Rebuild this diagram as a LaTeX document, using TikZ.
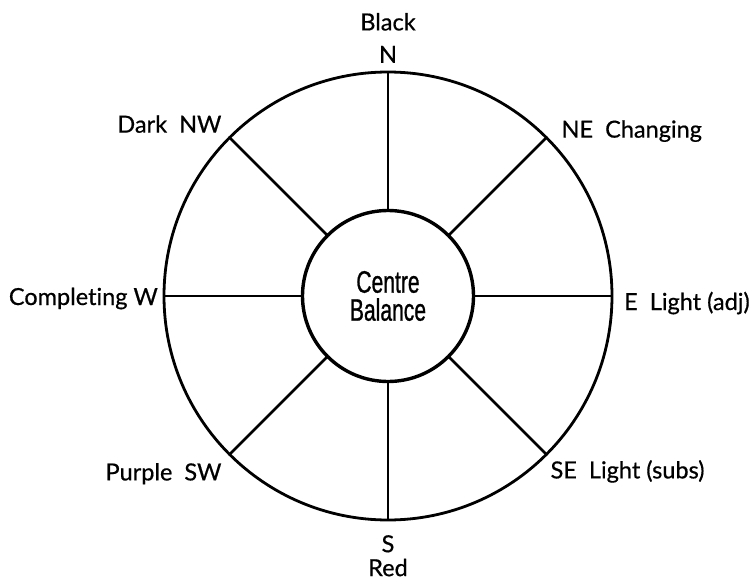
\documentclass[tikz,border=0pt]{standalone}
\usepackage{fontspec}
\setmainfont[Ligatures=NoCommon, FakeBold=0.6]{Lato}
\newfontfamily\hubfont[FakeStretch=0.68, FakeBold=0.8]{Liberation Sans}
\usetikzlibrary{positioning}

\begin{document}
\begin{tikzpicture}[
    x=1pt, y=-1pt,
    node distance=8pt,
    label/.style={inner sep=3pt, font=\fontsize{23.5}{28}\selectfont},
    rimline/.style={circle, draw, line width=2.8pt, outer sep=0pt},
    spoke/.style={line width=2.5pt}
]
    \useasboundingbox (0,0) rectangle (756,586);
    % wheel
    \node[rimline, minimum size=448pt] (rim) at (388,296) {};
    \node[rimline, line width=3.4pt, minimum size=171pt, align=center,
          font=\hubfont\fontsize{31}{28}\selectfont] (hub) at (388,296) {Centre\\Balance};
    \foreach \a in {0,45,...,315}
        \draw[spoke] (hub.\a) -- (rim.\a);
    % compass points
    \node[label, above=6pt of rim.north] (north) {N};
    \node[label, above=9pt of north] (black) {Black};
    \node[label, below=12pt of rim.south] (south) {S};
    \node[label, below=0pt of south] (red) {Red};
    \node[label, anchor=base east] (west) at ([shift={(-3,9)}]rim.west) {Completing W};
    \node[label, anchor=base west] (east) at ([shift={(9,14)}]rim.east) {E\ \ Light (adj)};
    \node[label, anchor=base east] (northwest) at ([shift={(-5,-5)}]rim.135) {Dark\ \ NW};
    \node[label, anchor=base west] (northeast) at ([shift={(12,0)}]rim.45) {NE\ \ Changing};
    \node[label, anchor=base east] (southwest) at ([shift={(-5,26)}]rim.-135) {Purple\ \ SW};
    \node[label, anchor=base west] (southeast) at ([shift={(1,24)}]rim.-45) {SE\ \ Light (subs)};
\end{tikzpicture}
\end{document}
